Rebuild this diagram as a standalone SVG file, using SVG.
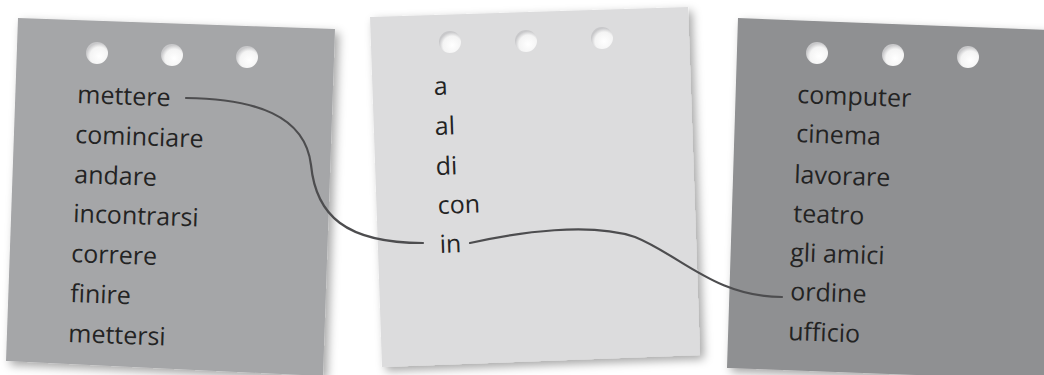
<svg xmlns="http://www.w3.org/2000/svg" width="1044" height="375" viewBox="0 0 1044 375">
<defs>
<filter id="sh" x="-10%" y="-10%" width="130%" height="130%">
<feDropShadow dx="4" dy="4" stdDeviation="5" flood-color="#000" flood-opacity="0.35"/>
</filter>
<radialGradient id="hole" cx="0.6" cy="0.65" r="0.6">
<stop offset="0" stop-color="#ffffff"/>
<stop offset="0.7" stop-color="#f4f4f4"/>
<stop offset="1" stop-color="#c8c8ca"/>
</radialGradient>
</defs>
<style>
.w{font-family:"Open Sans","Noto Sans",sans-serif;font-size:25px;fill:#232323}
.h{fill:url(#hole)}
.c{fill:none;stroke:#4d4d4f;stroke-width:2.2;stroke-linecap:round}
</style>
<rect width="1044" height="375" fill="#ffffff"/>
<g id="paper-left">
<polygon points="18,18 335,29 323,376 6,361" fill="#a5a6a8" filter="url(#sh)"/>
<circle class="h" cx="97" cy="53" r="11"/>
<circle class="h" cx="172" cy="55" r="11"/>
<circle class="h" cx="247" cy="57" r="11"/>
<text class="w" x="77" y="103" transform="rotate(2 77 103)">mettere</text>
<text class="w" x="75" y="143" transform="rotate(2 75 143)">cominciare</text>
<text class="w" x="74" y="183" transform="rotate(2 74 183)">andare</text>
<text class="w" x="73" y="222" transform="rotate(2 73 222)">incontrarsi</text>
<text class="w" x="71" y="262" transform="rotate(2 71 262)">correre</text>
<text class="w" x="70" y="302" transform="rotate(2 70 302)">finire</text>
<text class="w" x="68" y="342" transform="rotate(2 68 342)">mettersi</text>
</g>
<g id="paper-middle">
<polygon points="370,17 688,7 700,355 382,367" fill="#dcdcdd" filter="url(#sh)"/>
<circle class="h" cx="450" cy="42" r="11"/>
<circle class="h" cx="526" cy="41" r="11"/>
<circle class="h" cx="602" cy="38" r="11"/>
<text class="w" x="434" y="95" transform="rotate(-2 434 95)">a</text>
<text class="w" x="435" y="135" transform="rotate(-2 435 135)">al</text>
<text class="w" x="436" y="175" transform="rotate(-2 436 175)">di</text>
<text class="w" x="438" y="214" transform="rotate(-2 438 214)">con</text>
<text class="w" x="440" y="253" transform="rotate(-2 440 253)">in</text>
</g>
<g id="paper-right">
<polygon points="738,18 1050,30 1050,380 727,368" fill="#8f9092" filter="url(#sh)"/>
<circle class="h" cx="817" cy="53" r="11"/>
<circle class="h" cx="893" cy="55" r="11"/>
<circle class="h" cx="968" cy="57" r="11"/>
<text class="w" x="797" y="103" transform="rotate(2 797 103)">computer</text>
<text class="w" x="796" y="142" transform="rotate(2 796 142)">cinema</text>
<text class="w" x="794" y="183" transform="rotate(2 794 183)">lavorare</text>
<text class="w" x="793" y="222" transform="rotate(2 793 222)">teatro</text>
<text class="w" x="790" y="261" transform="rotate(2 790 261)">gli amici</text>
<text class="w" x="790" y="300" transform="rotate(2 790 300)">ordine</text>
<text class="w" x="788" y="340" transform="rotate(2 788 340)">ufficio</text>
</g>
<g id="connectors">
<path class="c" d="M186,98 C255,99 305,115 311,165 C316,215 345,243 423,243"/>
<path class="c" d="M470,243 C520,232 590,222 635,237 C680,255 715,297 782,297"/>
</g>
</svg>
